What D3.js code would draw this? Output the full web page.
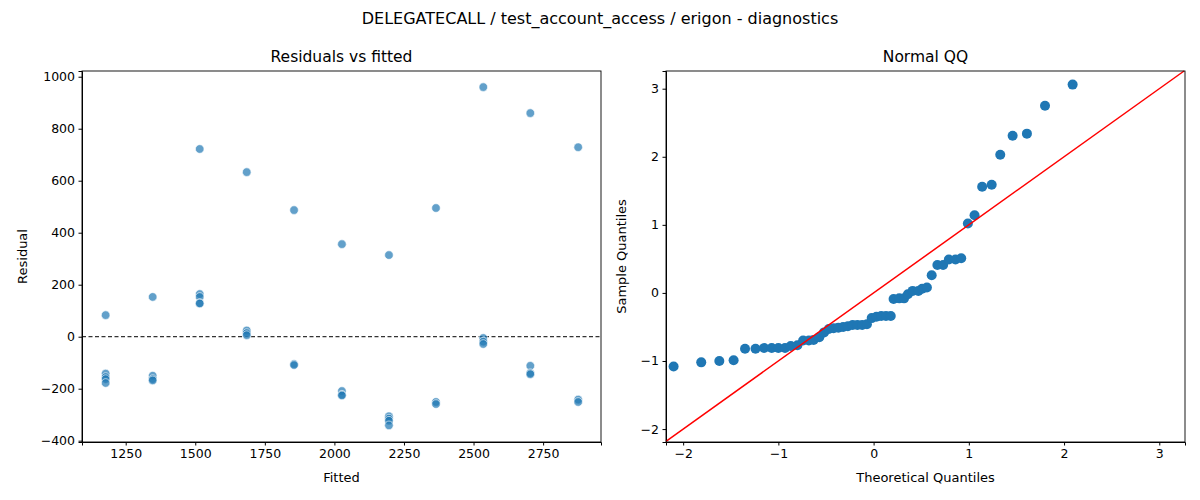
<!DOCTYPE html>
<html><head><meta charset="utf-8">
<script src="https://cdn.jsdelivr.net/npm/d3@7"></script>
<style>
body{margin:0;background:#fff;font-family:"DejaVu Sans",sans-serif}
.tick text{font-size:12.5px;font-family:"DejaVu Sans",sans-serif}
.tick line,.domain{stroke:#000}
</style></head><body>
<svg id="chart" width="1200" height="500"></svg>
<script>
// residuals grouped by fitted value
var resid = {
  1178:[83,-142,-155,-163,-178],
  1347:[153,-150,-163,-168],
  1516:[722,164,153,129,128],
  1685:[633,24,14,6],
  1855:[487,-105,-109],
  2027:[356,-209,-223,-226],
  2196:[314,-306,-315,-323,-341],
  2365:[495,-251,-259],
  2535:[960,-5,-19,-28],
  2704:[860,-112,-140,-144],
  2876:[729,-242,-251]
};
var pts = [];
Object.keys(resid).forEach(function(f){
  resid[f].forEach(function(r){ pts.push({x:+f, y:r}); });
});

var qq = [[-2.10,-1.08],[-1.81,-1.02],[-1.62,-1.00],[-1.47,-0.99],[-1.35,-0.82],[-1.24,-0.82],
[-1.15,-0.81],[-1.07,-0.81],[-1.00,-0.81],[-0.93,-0.81],[-0.87,-0.78],[-0.80,-0.77],[-0.74,-0.70],
[-0.68,-0.70],[-0.63,-0.69],[-0.57,-0.65],[-0.52,-0.58],[-0.47,-0.53],[-0.42,-0.52],[-0.37,-0.51],
[-0.32,-0.50],[-0.27,-0.49],[-0.22,-0.47],[-0.17,-0.47],[-0.12,-0.47],[-0.07,-0.46],[-0.02,-0.37],
[0.03,-0.35],[0.08,-0.34],[0.13,-0.34],[0.18,-0.34],[0.21,-0.09],[0.27,-0.08],[0.32,-0.08],
[0.36,-0.02],[0.41,0.03],[0.47,0.03],[0.51,0.06],[0.56,0.08],[0.61,0.26],[0.67,0.41],[0.73,0.41],
[0.79,0.49],[0.86,0.49],[0.92,0.51],[0.99,1.02],[1.06,1.14],[1.14,1.56],[1.24,1.59],[1.33,2.03],
[1.46,2.31],[1.61,2.34],[1.80,2.75],[2.09,3.06]];

var svg = d3.select("#chart");
svg.append("text").attr("x",600).attr("y",24).attr("text-anchor","middle")
  .style("font-size","16px").text("DELEGATECALL / test_account_access / erigon - diagnostics");

// left panel
var L = {l:82, r:601, t:71, b:442};
var x1 = d3.scaleLinear().domain([1093,2958]).range([L.l,L.r]);
var y1 = d3.scaleLinear().domain([-405,1022]).range([L.b,L.t]);
var g1 = svg.append("g");
g1.append("g").attr("transform","translate(0,"+L.b+")")
  .call(d3.axisBottom(x1).tickValues([1250,1500,1750,2000,2250,2500,2750]).tickFormat(d3.format("d")).tickSizeOuter(0).tickSize(3.5).tickPadding(3.5));
g1.append("g").attr("transform","translate("+L.l+",0)")
  .call(d3.axisLeft(y1).tickValues([-400,-200,0,200,400,600,800,1000]).tickFormat(d3.format("d")).tickSizeOuter(0).tickSize(3.5).tickPadding(3.5));
g1.append("line").attr("x1",L.l).attr("x2",L.r).attr("y1",y1(0)).attr("y2",y1(0))
  .attr("stroke","#000").attr("stroke-dasharray","4,2.5");
g1.selectAll(".dot").data(pts).enter().append("circle")
  .attr("cx",d=>x1(d.x)).attr("cy",d=>y1(d.y)).attr("r",4.3)
  .attr("fill","#1f77b4").attr("fill-opacity",0.7).attr("stroke","#fff").attr("stroke-width",0.6);
g1.append("rect").attr("x",L.l).attr("y",L.t).attr("width",L.r-L.l).attr("height",L.b-L.t)
  .attr("fill","none").attr("stroke","#000").attr("stroke-width",0.9);
g1.append("text").attr("x",(L.l+L.r)/2).attr("y",62).attr("text-anchor","middle").style("font-size","15.5px").text("Residuals vs fitted");
g1.append("text").attr("x",(L.l+L.r)/2).attr("y",482).attr("text-anchor","middle").style("font-size","13px").text("Fitted");
g1.append("text").attr("transform","translate(27,"+((L.t+L.b)/2)+") rotate(-90)").attr("text-anchor","middle").style("font-size","13px").text("Residual");

// right panel
var R = {l:666, r:1185, t:71, b:442};
var x2 = d3.scaleLinear().domain([-2.18,3.27]).range([R.l,R.r]);
var y2 = d3.scaleLinear().domain([-2.19,3.26]).range([R.b,R.t]);
var g2 = svg.append("g");
g2.append("g").attr("transform","translate(0,"+R.b+")")
  .call(d3.axisBottom(x2).tickValues([-2,-1,0,1,2,3]).tickFormat(d3.format("d")).tickSizeOuter(0).tickSize(3.5).tickPadding(3.5));
g2.append("g").attr("transform","translate("+R.l+",0)")
  .call(d3.axisLeft(y2).tickValues([-2,-1,0,1,2,3]).tickFormat(d3.format("d")).tickSizeOuter(0).tickSize(3.5).tickPadding(3.5));
g2.selectAll(".qq").data(qq).enter().append("circle")
  .attr("cx",d=>x2(d[0])).attr("cy",d=>y2(d[1])).attr("r",5).attr("fill","#1f77b4");
g2.append("line").attr("x1",x2(-2.18)).attr("y1",y2(-2.18)).attr("x2",x2(3.26)).attr("y2",y2(3.26))
  .attr("stroke","red").attr("stroke-width",1.5);
g2.append("rect").attr("x",R.l).attr("y",R.t).attr("width",R.r-R.l).attr("height",R.b-R.t)
  .attr("fill","none").attr("stroke","#000").attr("stroke-width",0.9);
g2.append("text").attr("x",(R.l+R.r)/2).attr("y",62).attr("text-anchor","middle").style("font-size","15.5px").text("Normal QQ");
g2.append("text").attr("x",(R.l+R.r)/2).attr("y",482).attr("text-anchor","middle").style("font-size","13px").text("Theoretical Quantiles");
g2.append("text").attr("transform","translate(626,"+((R.t+R.b)/2)+") rotate(-90)").attr("text-anchor","middle").style("font-size","13px").text("Sample Quantiles");
</script>
</body></html>
